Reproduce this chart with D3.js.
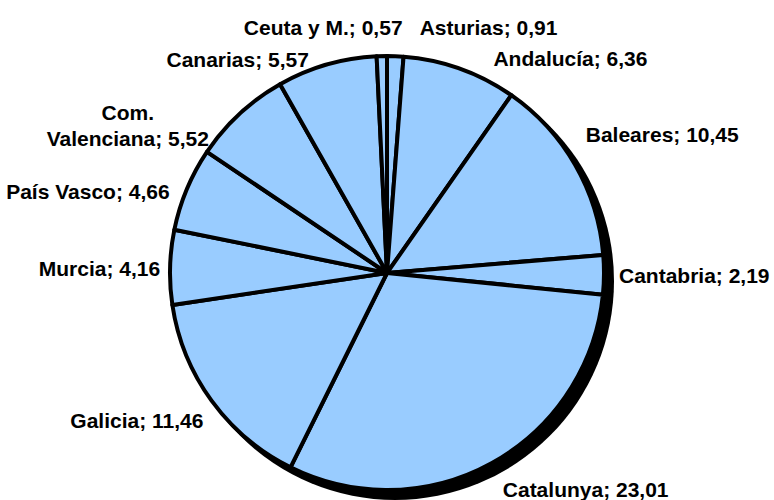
<!DOCTYPE html>
<html>
<head>
<meta charset="utf-8">
<script src="https://cdn.jsdelivr.net/npm/d3@7"></script>
<style>
  body { margin: 0; background: #fff; }
  .lbl { font-family: "Liberation Sans", Arial, sans-serif; font-weight: bold; font-size: 21px; fill: #000; }
</style>
</head>
<body>
<div id="chart-area"></div>
<script>
// Data (clockwise from 12 o'clock)
var regions = ["Asturias", "Andalucía", "Baleares", "Cantabria", "Catalunya", "Galicia",
               "Murcia", "País Vasco", "Com. Valenciana", "Canarias", "Ceuta y M."];
var values = [0.91, 6.36, 10.45, 2.19, 23.01, 11.46, 4.16, 4.66, 5.52, 5.57, 0.57];

var width = 774, height = 500;
var cx = 387, cy = 273, radius = 217;

// label nudges relative to a point just outside the slice (manual placement as in the original)
var nudge = {
    "Asturias": [24, -19], "Andalucía": [30, -1], "Baleares": [2, -25], "Cantabria": [5, 1],
    "Catalunya": [6, 18], "Galicia": [0, 14], "Murcia": [0, 1], "País Vasco": [-8, 6],
    "Com. Valenciana": [-105, 19], "Canarias": [-15, 4], "Ceuta y M.": [21, -19]
};

var locale = d3.formatLocale({ decimal: ",", thousands: ".", grouping: [3], currency: ["", "€"] });
var fmt = locale.format(".2f");

var svg = d3.select("#chart-area").append("svg")
    .attr("width", width)
    .attr("height", height);

var g = svg.append("g")
    .attr("transform", "translate(" + cx + "," + cy + ")");

var data = regions.map(function(d, i) { return { name: d, value: values[i] }; });

var pie = d3.pie()
    .sort(null)
    .value(function(d) { return d.value; });

var arc = d3.arc().innerRadius(0).outerRadius(radius);

// shadow
g.append("circle")
    .attr("cx", 8)
    .attr("cy", 8)
    .attr("r", radius + 2)
    .attr("fill", "#000");

var arcs = pie(data);

g.selectAll("path.slice")
    .data(arcs)
    .enter().append("path")
    .attr("class", "slice")
    .attr("d", arc)
    .attr("fill", "#99CCFF")
    .attr("stroke", "#000")
    .attr("stroke-width", 4)
    .attr("stroke-linejoin", "round");

// Labels
var labelR = radius + 10;
arcs.forEach(function(d) {
    var a = (d.startAngle + d.endAngle) / 2;
    var px = labelR * Math.sin(a), py = -labelR * Math.cos(a);
    var n = nudge[d.data.name] || [0, 0];
    var txt = d.data.name + "; " + fmt(d.data.value);
    var t = g.append("text")
        .attr("class", "lbl")
        .attr("x", px + n[0])
        .attr("y", py + n[1]);
    if (d.data.name === "Com. Valenciana") {
        t.attr("text-anchor", "middle");
        t.append("tspan").attr("x", px + n[0]).attr("dy", "-0.27em").text("Com.");
        t.append("tspan").attr("x", px + n[0]).attr("dy", "1.24em").text("Valenciana; " + fmt(d.data.value));
    } else {
        t.attr("text-anchor", Math.sin(a) >= 0 ? "start" : "end")
            .attr("dy", "0.36em")
            .text(txt);
    }
});
</script>
</body>
</html>
